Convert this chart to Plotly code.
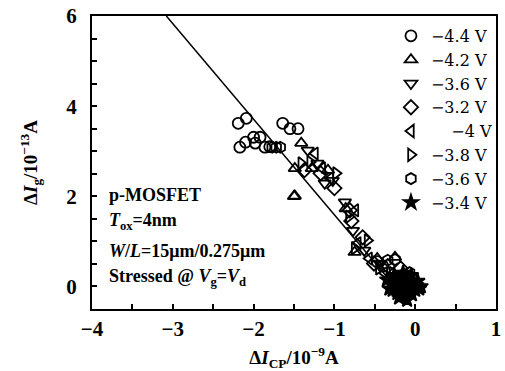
import plotly.graph_objects as go

FONT = "Liberation Serif"
LFONT = "DejaVu Serif"

labels = ["−4.4 V", "−4.2 V", "−3.6 V", "−3.2 V", "&nbsp;&nbsp;&nbsp;&nbsp;−4 V", "−3.8 V", "−3.6 V", "−3.4 V"]
symbols = ["circle-open", "triangle-up-open", "triangle-down-open", "diamond-open",
           "triangle-left-open", "triangle-right-open", "hexagon-open", "star"]

# series data (x: dI_CP / 1e-9 A, y: dI_g / 1e-13 A)
x_44 = [-2.19, -2.09, -2.17, -2.10, -2.00, -1.92, -1.98, -1.86, -1.80, -1.64, -1.55, -1.45, -0.47, -0.40]
y_44 = [3.62, 3.73, 3.09, 3.20, 3.31, 3.31, 3.18, 3.09, 3.10, 3.62, 3.50, 3.50, 0.55, 0.45]

x_42 = [-1.41, -1.49, -1.50, -1.49, -1.08, -0.86, -0.75, -0.47, -0.25, -0.15, -1.28]
y_42 = [3.18, 2.62, 2.00, 2.01, 2.58, 1.73, 0.76, 0.62, 0.65, 0.20, 2.62]

x_36a = [-1.33, -1.21, -1.12, -0.87, -0.77, -0.63, -0.43, -0.20, -0.10, -1.02]
y_36a = [3.02, 2.73, 2.29, 1.87, 1.24, 0.80, 0.51, 0.25, -0.05, 2.35]

x_32 = [-1.37, -1.17, -1.00, -0.81, -0.65, -0.51, -0.34, -0.18, -0.05, -0.79]
y_32 = [2.58, 2.51, 2.18, 1.69, 1.09, 0.51, 0.45, 0.40, 0.05, 1.45]

x_40 = [-1.24, -1.05, -0.74, -0.71, -0.57, -0.38, -0.22, -0.08, -1.15]
y_40 = [2.95, 2.40, 1.69, 0.96, 0.62, 0.30, 0.15, 0.10, 2.62]

x_38 = [-1.41, -1.30, -0.98, -0.82, -0.59, -0.75, -0.45, -0.28, -0.12]
y_38 = [2.73, 2.76, 2.51, 1.55, 1.02, 0.85, 0.40, 0.30, 0.20]

x_36b = [-1.67, -1.72, -1.77, -0.34, -0.25, -0.07, -0.30, 0.00]
y_36b = [3.09, 3.09, 3.09, 0.58, 0.60, 0.31, 0.15, 0.05]

x_34 = [-0.35, -0.30, -0.28, -0.25, -0.22, -0.20, -0.18, -0.16, -0.14, -0.12, -0.10, -0.08, -0.06,
        -0.04, -0.02, 0.00, 0.02, 0.05, 0.07, -0.10, -0.20, -0.32, -0.05, 0.03, -0.15, -0.26]
y_34 = [0.15, 0.05, -0.08, 0.10, -0.15, 0.02, 0.20, -0.05, -0.20, 0.08, -0.10, 0.15, -0.02,
        -0.18, 0.05, -0.08, 0.02, -0.05, 0.00, -0.30, -0.25, -0.05, 0.25, 0.12, 0.30, 0.25]

series_x = [x_44, x_42, x_36a, x_32, x_40, x_38, x_36b, x_34]
series_y = [y_44, y_42, y_36a, y_32, y_40, y_38, y_36b, y_34]

fit_x = [-3.08, -0.25]
fit_y = [6.0, 0.0]

fig = go.Figure()
fig.add_trace(go.Scatter(x=fit_x, y=fit_y, mode="lines", line=dict(color="black", width=1.5),
                         showlegend=False, hoverinfo="skip"))
for xs, ys, lab, sym in zip(series_x, series_y, labels, symbols):
    fig.add_trace(go.Scatter(x=xs, y=ys, mode="markers", name=lab,
                             marker=dict(symbol=sym, size=11, color="black",
                                         line=dict(color="black", width=1.8))))

tickfont = dict(family=FONT, size=21, color="black", weight="bold")
titlefont = dict(family=FONT, size=19, color="black", weight="bold")
axis_common = dict(showline=True, mirror=True, linecolor="black", linewidth=2,
                   ticks="inside", ticklen=5, tickwidth=1.5, tickcolor="black",
                   showgrid=False, zeroline=False, automargin=False, tickfont=tickfont)

fig.update_xaxes(range=[-4, 1], tickvals=[-4, -3, -2, -1, 0, 1],
                 minor=dict(dtick=0.5, tick0=0, ticks="inside", ticklen=5, tickwidth=1.5, tickcolor="black"),
                 title=dict(text="Δ<i>I</i><sub>CP</sub>/10<sup>−9</sup>A", font=titlefont, standoff=14),
                 **axis_common)
fig.update_yaxes(range=[-0.5, 6], tickvals=[0, 2, 4, 6],
                 minor=dict(dtick=0.5, tick0=0, ticks="inside", ticklen=5, tickwidth=1.5, tickcolor="black"),
                 title=dict(text="Δ<i>I</i><sub>g</sub>/10<sup>−13</sup>A", font=titlefont, standoff=24),
                 ticklabelstandoff=9,
                 **axis_common)

notes = ["p-MOSFET", "<i>T</i><sub>ox</sub>=4nm", "<i>W</i>/<i>L</i>=15μm/0.275μm",
         "Stressed @ <i>V</i><sub>g</sub>=<i>V</i><sub>d</sub>"]
note_y = [0.389, 0.297, 0.198, 0.106]
for t, yy in zip(notes, note_y):
    fig.add_annotation(text=t, x=0.037, y=yy, xref="paper", yref="paper", xanchor="left", yanchor="middle",
                       showarrow=False, font=dict(family=FONT, size=18, color="black", weight="bold"))

fig.update_layout(
    width=505, height=371,
    margin=dict(l=92, r=7, t=16, b=62),
    paper_bgcolor="white", plot_bgcolor="white",
    showlegend=True,
    legend=dict(x=0.74, y=0.99, xanchor="left", yanchor="top", bgcolor="rgba(0,0,0,0)",
                font=dict(family=LFONT, size=16, color="black"), itemwidth=30),
)

fig.write_html("out.html")
